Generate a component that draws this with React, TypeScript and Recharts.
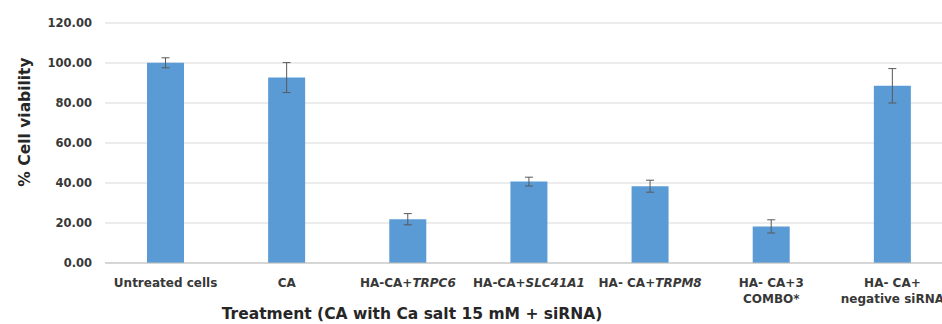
import React from 'react';
import { BarChart, Bar, XAxis, YAxis, CartesianGrid, ErrorBar } from 'recharts';

// treatments (x categories)
const categories = [
  'Untreated cells',
  'CA',
  'HA-CA+TRPC6',
  'HA-CA+SLC41A1',
  'HA- CA+TRPM8',
  'HA- CA+3 COMBO*',
  'HA- CA+ negative siRNA',
];

// tick label lines, parts marked i are italic (gene names)
const tickLines = [
  [[{ t: 'Untreated cells' }]],
  [[{ t: 'CA' }]],
  [[{ t: 'HA-CA+' }, { t: 'TRPC6', i: true }]],
  [[{ t: 'HA-CA+' }, { t: 'SLC41A1', i: true }]],
  [[{ t: 'HA- CA+' }, { t: 'TRPM8', i: true }]],
  [[{ t: 'HA- CA+3' }], [{ t: 'COMBO*' }]],
  [[{ t: 'HA- CA+' }], [{ t: 'negative siRNA' }]],
];

const viability = [100.1, 92.7, 21.9, 40.7, 38.4, 18.3, 88.6];
const sdev = [2.5, 7.5, 2.8, 2.2, 3.0, 3.3, 8.6];
const yTicks = [0, 20, 40, 60, 80, 100, 120];

const data = categories.map((name, i) => ({ name, idx: i, value: viability[i], err: sdev[i] }));

const FONT = '"DejaVu Sans", Arial, sans-serif';

function TreatmentTick(props: any) {
  const { x, y, payload } = props;
  const lines = tickLines[payload.index] || [[{ t: payload.value }]];
  return (
    <text x={x} y={y} textAnchor="middle" fontFamily={FONT} fontWeight="bold" fontSize={12} fill="#383838">
      {lines.map((parts, li) => (
        <tspan key={li} x={x} dy={li === 0 ? 16 : 16}>
          {parts.map((p: any, pi: number) => (
            <tspan key={pi} fontStyle={p.i ? 'italic' : 'normal'}>{p.t}</tspan>
          ))}
        </tspan>
      ))}
    </text>
  );
}

export default function App() {
  return (
    <div style={{ position: 'absolute', left: 0, top: 0, width: 942, height: 324, overflow: 'hidden', background: '#fff' }}>
      <BarChart
        width={960}
        height={324}
        data={data}
        margin={{ top: 23, right: 7, left: 45, bottom: 0 }}
        barCategoryGap={0}
      >
        <CartesianGrid vertical={false} stroke="#d9d9d9" />
        <XAxis
          dataKey="name"
          height={61}
          tickLine={false}
          axisLine={{ stroke: '#bfbfbf' }}
          interval={0}
          tick={<TreatmentTick />}
        />
        <YAxis
          width={60}
          domain={[0, 120]}
          ticks={yTicks}
          tickFormatter={(v: number) => v.toFixed(2)}
          axisLine={false}
          tickLine={false}
          tickSize={0}
          tickMargin={13}
          tick={{ fontFamily: FONT, fontWeight: 'bold', fontSize: 11.5, fill: '#383838' }}
        />
        <Bar dataKey="value" fill="#5b9bd5" barSize={37} isAnimationActive={false}>
          <ErrorBar dataKey="err" width={4} stroke="#595959" strokeWidth={1} />
        </Bar>
      </BarChart>
      <svg width={942} height={324} style={{ position: 'absolute', left: 0, top: 0, pointerEvents: 'none' }}>
        <text
          transform="translate(30,122) rotate(-90)"
          textAnchor="middle"
          fontFamily={FONT}
          fontWeight="bold"
          fontSize={15.5}
          fill="#262626"
        >
          % Cell viability
        </text>
        <text x={412} y={319} textAnchor="middle" fontFamily={FONT} fontWeight="bold" fontSize={15.5} fill="#262626">
          Treatment (CA with Ca salt 15 mM + siRNA)
        </text>
      </svg>
    </div>
  );
}
